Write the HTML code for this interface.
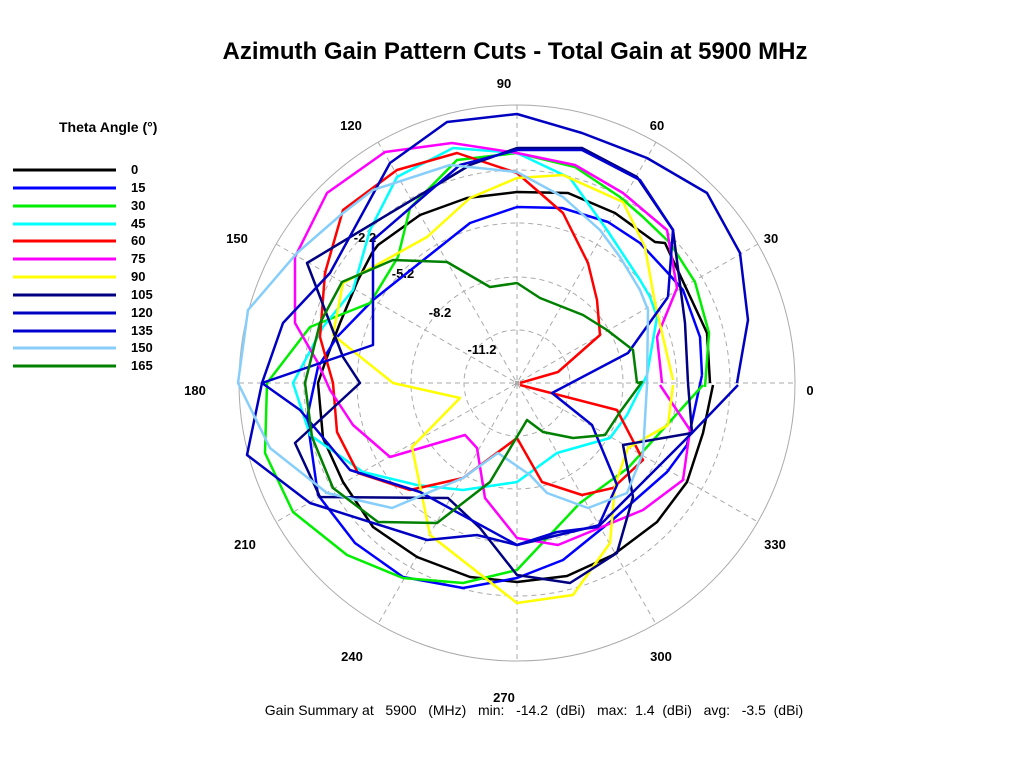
<!DOCTYPE html>
<html><head><meta charset="utf-8"><style>
body{margin:0;background:#fff;}
svg{display:block;font-family:"Liberation Sans",Arial,sans-serif;}
.l{font-weight:bold;font-size:13px;}
</style></head><body>
<svg width="1033" height="768" viewBox="0 0 1033 768">
<rect width="1033" height="768" fill="#fff"/>
<text x="515" y="59" text-anchor="middle" font-size="24" font-weight="bold">Azimuth Gain Pattern Cuts - Total Gain at 5900 MHz</text>
<g fill="none" stroke="#aaa" stroke-width="1">
<circle cx="517" cy="383" r="278"/>
<g stroke-dasharray="5,4">
<circle cx="517" cy="383" r="53"/><circle cx="517" cy="383" r="106"/><circle cx="517" cy="383" r="160"/><circle cx="517" cy="383" r="213"/>
<line x1="239" y1="383" x2="795" y2="383"/><line x1="517" y1="105" x2="517" y2="661"/>
<line x1="378" y1="142" x2="656" y2="624"/><line x1="656" y1="142" x2="378" y2="624"/>
<line x1="276" y1="244" x2="758" y2="522"/><line x1="758" y1="244" x2="276" y2="522"/>
</g></g>
<g class="l" text-anchor="middle">
<text x="504" y="88">90</text><text x="657" y="130">60</text><text x="771" y="243">30</text><text x="810" y="395">0</text>
<text x="775" y="549">330</text><text x="661" y="661">300</text><text x="504" y="702">270</text><text x="352" y="661">240</text>
<text x="245" y="549">210</text><text x="195" y="395">180</text><text x="237" y="243">150</text><text x="351" y="130">120</text>
<text x="365" y="242">-2.2</text><text x="403" y="278">-5.2</text><text x="440" y="317">-8.2</text><text x="482" y="354">-11.2</text>
</g>
<g fill="none" stroke-width="2.5" stroke-linejoin="round">
<polyline stroke="#000" points="710,383 707,333 701,320 665,243 655,242 615,213 568,193 517,192 467,198 420,215 378,245 372,253 358,280 340,323 327,357 318,383 323,438 343,482 373,527 417,557 470,577 517,582 567,576 613,555 657,522 687,482 703,433 713,385"/>
<polyline stroke="#0000ff" points="702,375 700,337 683,290 667,272 640,243 608,222 562,208 517,207 470,223 373,300 337,337 318,367 307,418 318,495 355,543 403,577 463,588 517,578 563,560 610,522 667,472 687,445 702,375"/>
<polyline stroke="#00ee00" points="705,387 709,333 695,282 670,243 643,217 620,197 575,167 517,153 457,160 410,208 398,257 370,303 310,327 267,383 265,453 293,512 347,555 403,578 463,583 517,570 580,503 628,468 703,385"/>
<polyline stroke="#00ffff" points="647,375 657,317 650,297 640,280 607,230 570,178 517,153 453,148 397,177 370,230 353,290 323,327 293,383 310,435 363,472 417,485 463,490 517,482 557,453 610,438 627,415 647,375"/>
<polyline stroke="#ff0000" points="520,383 558,372 600,335 597,300 588,263 563,213 517,173 457,153 397,170 343,210 325,273 320,337 333,383 337,432 358,473 410,490 463,478 517,438 542,482 582,495 613,488 643,460 617,410 520,385"/>
<polyline stroke="#ff00ff" points="662,383 657,337 677,288 667,230 623,193 575,165 517,153 452,143 385,152 327,193 295,257 295,323 318,363 330,390 353,425 390,457 465,435 477,448 485,498 517,538 558,545 643,510 683,480 690,430 660,385"/>
<polyline stroke="#ffff00" points="673,380 655,303 645,247 623,202 563,175 517,178 470,198 427,237 373,267 343,283 333,335 393,383 460,398 412,447 430,535 517,603 573,595 610,543 615,485 628,448 668,425 673,385"/>
<polyline stroke="#000080" points="688,383 685,323 673,230 637,177 582,148 517,148 470,165 412,200 307,263 343,357 360,383 295,443 320,497 448,498 480,528 517,575 570,583 617,553 633,497 623,445 692,433 688,383"/>
<polyline stroke="#0000c0" points="737,383 748,320 740,253 707,193 647,158 582,133 517,114 447,122 390,163 330,273 283,323 262,383 247,455 310,503 427,540 477,535 517,545 600,525 692,433 738,385"/>
<polyline stroke="#0000d0" points="668,297 673,230 640,180 582,150 517,150 460,165 373,240 373,345 262,383 300,410 350,470 420,492 517,545 557,532 598,527 617,485 592,425 552,393 628,353 668,297"/>
<polyline stroke="#87cefa" points="647,385 648,310 640,290 620,257 600,230 563,197 517,172 450,165 373,190 343,213 297,253 248,310 238,383 270,448 327,493 392,508 463,478 498,453 530,475 547,493 588,508 627,493 643,453 647,385"/>
<polyline stroke="#008000" points="637,383 633,350 607,330 583,315 540,298 517,283 490,287 447,262 393,260 342,282 320,323 305,383 312,437 333,488 378,522 437,523 490,482 527,420 543,432 573,438 605,435 620,412 642,382 637,383"/>
</g>
<rect x="515" y="381" width="4" height="4" fill="#aaa"/>
<text x="59" y="132" font-weight="bold" font-size="14">Theta Angle (°)</text>
<g stroke-width="3">
<line x1="13" y1="170" x2="116" y2="170" stroke="#000"/>
<line x1="13" y1="188" x2="116" y2="188" stroke="#0000ff"/>
<line x1="13" y1="206" x2="116" y2="206" stroke="#00ee00"/>
<line x1="13" y1="224" x2="116" y2="224" stroke="#00ffff"/>
<line x1="13" y1="241" x2="116" y2="241" stroke="#ff0000"/>
<line x1="13" y1="259" x2="116" y2="259" stroke="#ff00ff"/>
<line x1="13" y1="277" x2="116" y2="277" stroke="#ffff00"/>
<line x1="13" y1="295" x2="116" y2="295" stroke="#000080"/>
<line x1="13" y1="313" x2="116" y2="313" stroke="#0000c0"/>
<line x1="13" y1="331" x2="116" y2="331" stroke="#0000d0"/>
<line x1="13" y1="348" x2="116" y2="348" stroke="#87cefa"/>
<line x1="13" y1="366" x2="116" y2="366" stroke="#008000"/>
</g>
<g class="l" font-size="12">
<text x="131" y="174">0</text><text x="131" y="192">15</text><text x="131" y="210">30</text><text x="131" y="228">45</text>
<text x="131" y="245">60</text><text x="131" y="263">75</text><text x="131" y="281">90</text><text x="131" y="299">105</text>
<text x="131" y="317">120</text><text x="131" y="335">135</text><text x="131" y="352">150</text><text x="131" y="370">165</text>
</g>
<text x="534" y="715" text-anchor="middle" font-size="14" xml:space="preserve">Gain Summary at   5900   (MHz)   min:   -14.2  (dBi)   max:  1.4  (dBi)   avg:   -3.5  (dBi)</text>
</svg>
</body></html>
